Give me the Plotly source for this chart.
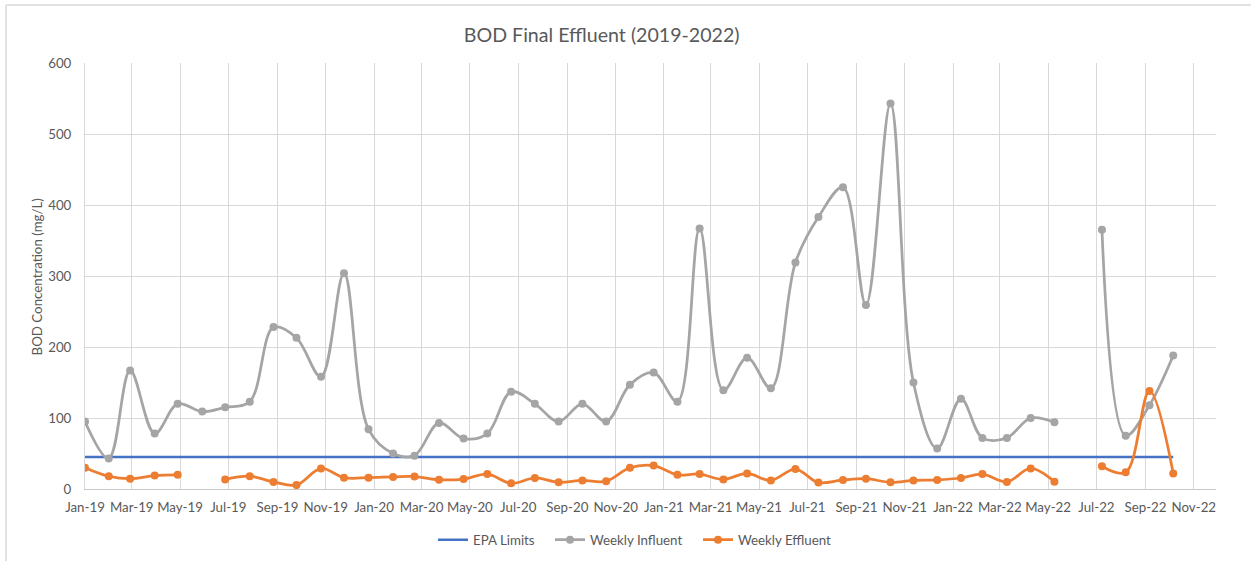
import plotly.graph_objects as go

# ---- data ----
dates = [
    "2019-01-01", "2019-01-31", "2019-02-27", "2019-03-30", "2019-04-28", "2019-05-29",
    "2019-06-27", "2019-07-28", "2019-08-27", "2019-09-25", "2019-10-26", "2019-11-24",
    "2019-12-25", "2020-01-25", "2020-02-21", "2020-03-23", "2020-04-23", "2020-05-23",
    "2020-06-22", "2020-07-22", "2020-08-21", "2020-09-20", "2020-10-20", "2020-11-19",
    "2020-12-19", "2021-01-18", "2021-02-15", "2021-03-17", "2021-04-16", "2021-05-16",
    "2021-06-16", "2021-07-15", "2021-08-15", "2021-09-13", "2021-10-14", "2021-11-12",
    "2021-12-12", "2022-01-11", "2022-02-07", "2022-03-10", "2022-04-09", "2022-05-09",
    "2022-06-08", "2022-07-08", "2022-08-07", "2022-09-06", "2022-10-06",
]

influent = [
    95, 43, 167, 78, 120, 109, 115, 123, 228, 213, 158, 304,
    84, 50, 47, 93, 71, 78, 137, 120, 95, 120, 95, 147,
    164, 123, 367, 139, 185, 142, 319, 383, 425, 259, 543, 150,
    57, 127, 72, 72, 100, 94, None, 365, 75, 118, 188,
]

effluent = [
    30, 18, 14.5, 19, 20, None, 13.5, 18, 10, 5.6, 29, 16,
    16, 17, 17.5, 13, 14, 21, 8, 15.5, 9.4, 12, 11, 30,
    33, 20, 21, 13.5, 22, 12, 28, 9, 12.7, 14.5, 9.4, 12,
    12.7, 15.5, 21, 10, 29, 10.3, None, 32, 23.5, 138, 22,
]

epa_limit = [45] * len(dates)

title_text = "BOD Final Effluent (2019-2022)"
y_title = "BOD Concentration (mg/L)"

# ---- styles ----
FONT = "Lato, Calibri, Carlito, sans-serif"
TXT = "#595959"
GRID = "#d9d9d9"
BLUE = "#4472C4"
GRAY = "#A5A5A5"
ORANGE = "#ED7D31"
FS = 13.3

W, H = 1251, 561
L, R, T, B = 85, 35, 63, 72
ph = H - T - B
pw = W - L - R


def px_x(px):
    return (px - L) / pw


def px_y(py):
    return (H - B - py) / ph


fig = go.Figure()
fig.add_trace(go.Scatter(
    x=dates, y=epa_limit, name="EPA Limits", mode="lines",
    line=dict(color=BLUE, width=2.5), legend="legend",
))
fig.add_trace(go.Scatter(
    x=dates, y=influent, name="Weekly Influent", mode="lines+markers",
    line=dict(color=GRAY, width=2.75, shape="spline", smoothing=1.0),
    marker=dict(color=GRAY, size=8), connectgaps=False, legend="legend2",
))
fig.add_trace(go.Scatter(
    x=dates, y=effluent, name="Weekly Effluent", mode="lines+markers",
    line=dict(color=ORANGE, width=2.75, shape="spline", smoothing=1.0),
    marker=dict(color=ORANGE, size=8), connectgaps=False, legend="legend3",
))


def leg(xpx):
    return dict(
        orientation="h", x=px_x(xpx), xanchor="left",
        y=px_y(540), yanchor="middle",
        font=dict(family=FONT, size=FS, color=TXT),
        bgcolor="rgba(0,0,0,0)",
    )


fig.update_layout(
    width=W, height=H,
    margin=dict(l=L, r=R, t=T, b=B, autoexpand=False),
    paper_bgcolor="white", plot_bgcolor="white",
    font=dict(family=FONT, size=FS, color=TXT),
    title=dict(text=title_text, x=601.7 / W, xanchor="center",
               y=1 - 35 / H, yanchor="middle",
               font=dict(family=FONT, size=19.6, color=TXT)),
    xaxis=dict(
        type="date",
        range=["2019-01-01", "2022-11-29"],
        tick0="2019-01-01", dtick="M2", tickformat="%b-%y",
        showgrid=True, gridcolor=GRID, gridwidth=1,
        showline=True, linecolor="#c8c8c8", linewidth=1,
        zeroline=False, ticks="", ticklabelstandoff=6, automargin=False,
        tickfont=dict(family=FONT, size=FS, color=TXT),
    ),
    yaxis=dict(
        range=[0, 600], tick0=0, dtick=100,
        showgrid=True, gridcolor=GRID, gridwidth=1,
        showline=True, linecolor=GRID, linewidth=1,
        zeroline=False, ticks="", ticklabelstandoff=10, automargin=False,
        tickfont=dict(family=FONT, size=FS, color=TXT),
    ),
    showlegend=True,
    legend=leg(433),
    legend2=leg(550),
    legend3=leg(698),
    annotations=[dict(
        text=y_title, textangle=-90, showarrow=False,
        xref="paper", yref="paper", x=px_x(36.7), y=px_y(276.7),
        xanchor="center", yanchor="middle",
        font=dict(family=FONT, size=FS, color=TXT),
    )],
    shapes=[
        dict(type="line", xref="paper", yref="paper",
             x0=px_x(6), x1=px_x(1260), y0=px_y(5), y1=px_y(5),
             line=dict(color=GRID, width=1.5)),
        dict(type="line", xref="paper", yref="paper",
             x0=px_x(6), x1=px_x(6), y0=px_y(5), y1=px_y(570),
             line=dict(color=GRID, width=1.5)),
    ],
)

fig.write_html("out.html")
